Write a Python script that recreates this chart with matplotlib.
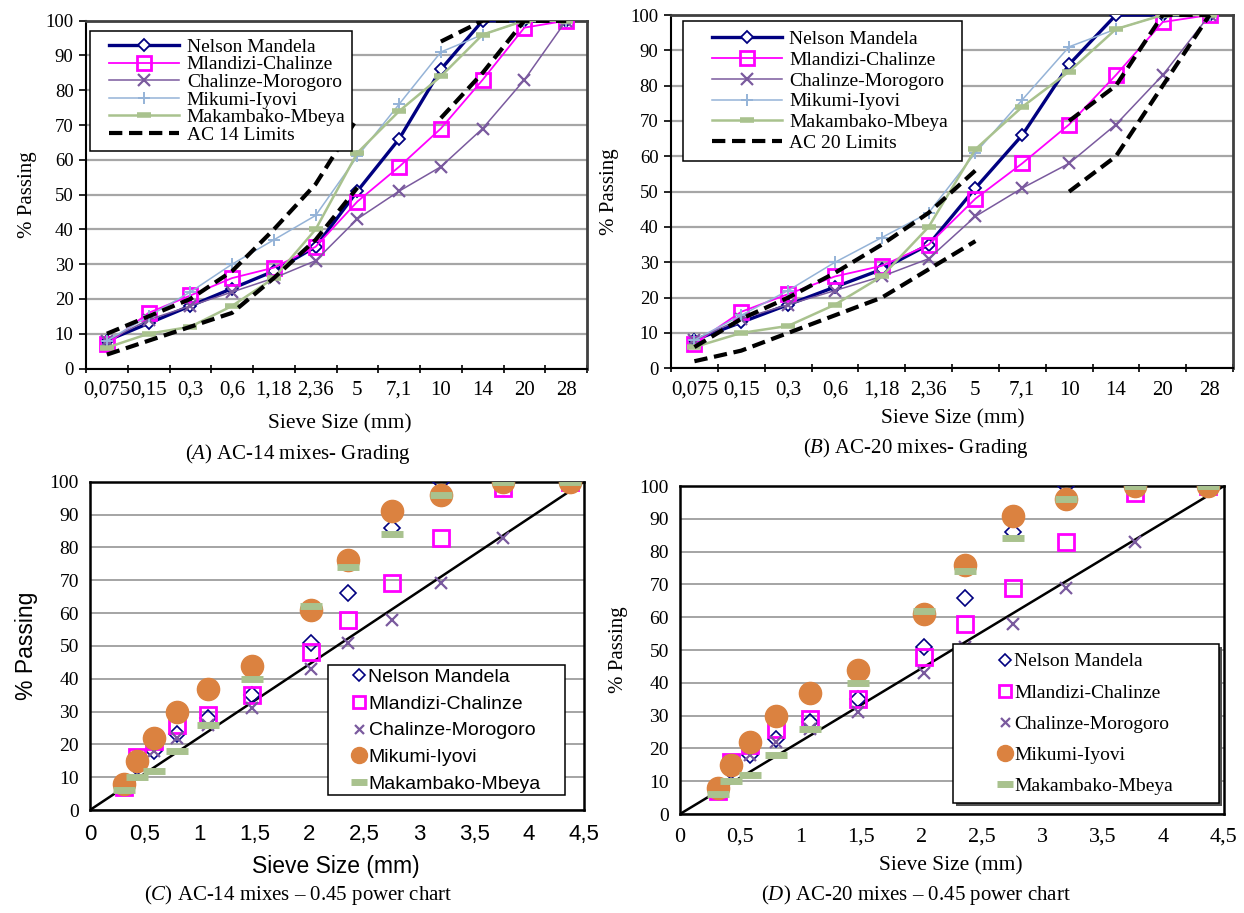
import numpy as np
import matplotlib
matplotlib.use('Agg')
import matplotlib.pyplot as plt
from matplotlib.patches import Rectangle

plt.rcParams['font.family'] = ['Liberation Serif', 'DejaVu Serif']
plt.rcParams['mathtext.fontset'] = 'custom'
plt.rcParams['mathtext.rm'] = 'Liberation Serif'
plt.rcParams['mathtext.it'] = 'Liberation Serif:italic'

# data
sieve_labels = ['0,075', '0,15', '0,3', '0,6', '1,18', '2,36', '5', '7,1', '10', '14', '20', '28']
sieve_mm = [0.075, 0.15, 0.3, 0.6, 1.18, 2.36, 4.75, 6.7, 9.5, 13.2, 19, 26.5]

nelson = [8, 13, 18, 23, 28, 35, 51, 66, 86, 100, 100, 100]
mlandizi = [7, 16, 21, 26, 29, 35, 48, 58, 69, 83, 98, 100]
chalinze = [8, 14, 18, 22, 26, 31, 43, 51, 58, 69, 83, 100]
mikumi = [8, 15, 22, 30, 37, 44, 61, 76, 91, 96, 100, 100]
makambako = [6, 10, 12, 18, 26, 40, 62, 74, 84, 96, 100, 100]

ac14_upper = [10, 15, 20, 28, 40, 53, 72, np.nan, 94, 100, 100, 100]
ac14_lower = [4, 8, 12, 16, 26, 37, 52, np.nan, 72, 85, 100, 100]
ac20_upper = [6, 14, 20, 27, 35, 44, 56, np.nan, 70, 80, 100, 100]
ac20_lower = [2, 5, 10, 15, 20, 28, 36, np.nan, 50, 60, 80, 100]

mix_names = ['Nelson Mandela', 'Mlandizi-Chalinze', 'Chalinze-Morogoro', 'Mikumi-Iyovi', 'Makambako-Mbeya']
mixes = [nelson, mlandizi, chalinze, mikumi, makambako]

W, H = 1244, 913
fig = plt.figure(figsize=(W / 100, H / 100), dpi=100)


def box(l, r, t, b):
    return [l / W, 1 - b / H, (r - l) / W, (b - t) / H]


def fp(x, y):
    return (x / W, 1 - y / H)


def ftext(x, y, s, **kw):
    fig.text(x / W, 1 - y / H, s, ha='center', va='center', **kw)


def legend_box(ax, l, r, t, b, shadow=False):
    # plain Excel-like frame drawn behind a frameless legend
    if shadow:
        ax.add_patch(Rectangle(fp(l + 3, b + 3), (r - l) / W, (b - t) / H,
                               transform=fig.transFigure, clip_on=False,
                               fc='#505050', ec='none', zorder=4.5))
    ax.add_patch(Rectangle(fp(l, b), (r - l) / W, (b - t) / H,
                           transform=fig.transFigure, clip_on=False,
                           fc='white', ec='black', lw=1.1, zorder=4.6))


SERIF = ['Liberation Serif', 'DejaVu Serif']
SANS = ['Liberation Sans', 'DejaVu Sans']

line_styles = [
    dict(color='#000080', lw=2.4, marker='D', ms=6.5, mfc='white', mec='#000080', mew=1.3),
    dict(color='#FF00FF', lw=1.3, marker='s', ms=10, mfc='none', mec='#FF00FF', mew=2),
    dict(color='#7A5A9E', lw=1.1, marker='x', ms=8, mec='#7A5A9E', mew=1.6),
    dict(color='#95B3D7', lw=1.1, marker='+', ms=9, mec='#95B3D7', mew=1.4),
    dict(color='#A9C28E', lw=1.8, marker='_', ms=10, mec='#A9C28E', mew=4),
]


def grading(pos, upper, lower, lim_name, frame, anchor, spacing):
    ax = fig.add_axes(pos)
    x = np.arange(len(sieve_labels))
    for name, vals, st in zip(mix_names, mixes, line_styles):
        ax.plot(x, vals, label=name, zorder=3, **st)
    ax.plot(x, upper, color='black', lw=3, ls=(0, (3.2, 1.6)), label=lim_name, zorder=4)
    ax.plot(x, lower, color='black', lw=3, ls=(0, (3.2, 1.6)), zorder=4)
    ax.set_xlim(-0.5, len(x) - 0.5)
    ax.set_ylim(0, 100)
    ax.set_yticks(range(0, 101, 10))
    ax.set_xticks(np.arange(-0.5, len(x), 1))
    ax.set_xticklabels([])
    ax.set_xticks(x, labels=sieve_labels, minor=True)
    ax.tick_params(axis='x', which='minor', length=0, labelsize=15, pad=9)
    ax.tick_params(axis='x', which='major', length=6, width=1.2, direction='inout')
    ax.tick_params(axis='y', length=5, width=1.2, labelsize=13.5, pad=4)
    ax.yaxis.grid(True, color='#A6A6A6', lw=1.6)
    ax.set_axisbelow(True)
    for s in ['left', 'bottom']:
        ax.spines[s].set_linewidth(1.5)
        ax.spines[s].set_color('black')
    for s in ['top', 'right']:
        ax.spines[s].set_linewidth(2)
        ax.spines[s].set_color('#404040')
    legend_box(ax, *frame)
    ax.legend(loc='center left', bbox_to_anchor=fp(*anchor), bbox_transform=fig.transFigure,
              borderaxespad=0, borderpad=0, frameon=False, fontsize=14,
              handlelength=3.6, labelspacing=spacing, handletextpad=0.4)
    return ax


axA = grading(box(86, 587, 20.7, 368.5), ac14_upper, ac14_lower, 'AC 14 Limits',
              (90, 352, 31, 151), (109, 91), 0.0)
axB = grading(box(671, 1233, 15, 368.3), ac20_upper, ac20_lower, 'AC 20 Limits',
              (682.6, 962.4, 21, 161), (711.6, 91.3), 0.16)
axA.set_ylabel('% Passing', fontsize=15, labelpad=6)
axB.set_ylabel('% Passing', fontsize=15, labelpad=8)

ftext(340, 424, 'Sieve Size (mm)', fontsize=15.5)
ftext(298, 454, r'($\mathit{A}$) AC-14 mixes- Grading', fontsize=15)
ftext(953, 419, 'Sieve Size (mm)', fontsize=15.5)
ftext(916, 448, r'($\mathit{B}$) AC-20 mixes- Grading', fontsize=15)

point_styles = [
    dict(marker='D', ms=8, mfc='none', mec='#000080', mew=1.2),
    dict(marker='s', ms=12, mfc='none', mec='#FF00FF', mew=2),
    dict(marker='x', ms=9, mec='#7A5A9E', mew=1.6),
    dict(marker='o', ms=16, mfc='#DB8240', mec='#DB8240'),
    dict(marker='_', ms=16, mec='#A9C28E', mew=5),
]


def power(pos, sans, frame, anchor, spacing):
    ax = fig.add_axes(pos)
    xp = np.array(sieve_mm) ** 0.45
    for name, vals, st in zip(mix_names, mixes, point_styles):
        ax.plot(xp, vals, ls='none', label=name, zorder=3, **st)
    ax.plot([0, 4.5], [0, 100], color='black', lw=1.8, zorder=2)
    ax.set_xlim(0, 4.5)
    ax.set_ylim(0, 100)
    ax.set_yticks(range(0, 101, 10))
    xt = np.arange(0, 4.51, 0.5)
    ax.set_xticks(xt, labels=[('%g' % v).replace('.', ',') for v in xt])
    ax.tick_params(length=0)
    ax.tick_params(axis='y', labelsize=14, pad=8)
    ax.tick_params(axis='x', labelsize=16, pad=10)
    fam = SANS if sans else SERIF
    for lab in ax.get_xticklabels():
        lab.set_family(fam)
    ax.yaxis.grid(True, color='#8C8C8C', lw=1.1)
    ax.set_axisbelow(True)
    for s in ax.spines.values():
        s.set_linewidth(1.8)
        s.set_color('black')
    legend_box(ax, *frame, shadow=not sans)
    ax.legend(loc='center left', bbox_to_anchor=fp(*anchor), bbox_transform=fig.transFigure,
              borderaxespad=0, borderpad=0, frameon=False,
              prop={'family': fam, 'size': 14},
              handlelength=0.8, handletextpad=0.1, labelspacing=spacing,
              markerscale=0.72)
    ax.set_ylabel('% Passing', family=fam, fontsize=16.5 if sans else 15, labelpad=8)
    return ax


axC = power(box(90, 584, 481.7, 810), True, (327.7, 564.6, 665, 795), (351, 730.5), 0.47)
axD = power(box(680, 1224, 486, 814), False, (952.5, 1219, 644, 803), (997, 724), 0.70)

ftext(336, 866, 'Sieve Size (mm)', fontsize=16.5, family=SANS)
ftext(298, 895, r'($\mathit{C}$) AC-14 mixes – 0.45 power chart', fontsize=15)
ftext(951, 866, 'Sieve Size (mm)', fontsize=15.5)
ftext(916, 895, r'($\mathit{D}$) AC-20 mixes – 0.45 power chart', fontsize=15)

fig.savefig('out.png', dpi=100)
